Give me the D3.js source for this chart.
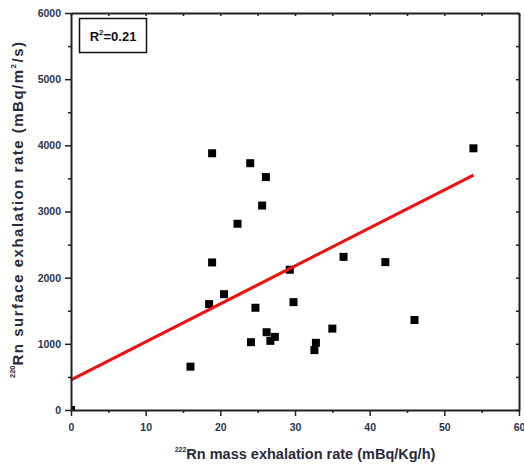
<!DOCTYPE html>
<html>
<head>
<meta charset="utf-8">
<script src="https://cdn.jsdelivr.net/npm/d3@7"></script>
<style>
  body { margin: 0; background: #fff; }
  text { font-family: "Liberation Sans", Arial, sans-serif; }
</style>
</head>
<body>
<div id="chart"></div>
<script>
// data
const massRate = [18.9, 24.0, 26.1, 25.6, 22.3, 18.9, 29.3, 20.5, 18.5, 24.7, 29.8,
                  26.2, 27.3, 26.7, 24.1, 16.0, 53.9, 36.5, 42.1, 35.0, 46.0, 32.8, 32.6, 0]
const surfaceRate = [3880, 3730, 3520, 3090, 2815, 2230, 2120, 1750, 1600, 1545, 1630,
                     1175, 1105, 1045, 1025, 655, 3955, 2315, 2235, 1230, 1360, 1015, 905, 0]
const fitX = [0, 53.9]
const fitY = [455, 3550]
const xTicks = [0, 10, 20, 30, 40, 50, 60]
const yTicks = [0, 1000, 2000, 3000, 4000, 5000, 6000]
const rSquared = "0.21"

const width = 524
const height = 466
const margin = { top: 13, bottom: 56, left: 71, right: 5 }

const svg = d3.select("#chart")
    .append("svg")
      .attr("width", width)
      .attr("height", height)

const x = d3.scaleLinear().domain([0, 60])
    .range([margin.left, width - margin.right])
const y = d3.scaleLinear().domain([0, 6000])
    .range([height - margin.bottom, margin.top])

// markers are clipped to the frame
svg.append("clipPath").attr("id", "plotClip")
  .append("rect")
    .attr("x", x(0)).attr("y", y(6000))
    .attr("width", x(60) - x(0)).attr("height", y(0) - y(6000))

const points = massRate.map((d, i) => ({ x: d, y: surfaceRate[i] }))

svg.append("g").attr("clip-path", "url(#plotClip)")
  .selectAll("rect").data(points)
  .enter().append("rect")
    .attr("x", d => x(d.x) - 4)
    .attr("y", d => y(d.y) - 4)
    .attr("width", 8)
    .attr("height", 8)
    .attr("fill", "#000")

// regression line
const line = d3.line().x(d => x(d[0])).y(d => y(d[1]))
svg.append("path")
    .datum(fitX.map((d, i) => [d, fitY[i]]))
    .attr("fill", "none")
    .attr("stroke", "#f01010")
    .attr("stroke-width", 3)
    .attr("d", line)

const axisColor = "#222"
const minorX = d3.range(5, 60, 10)
const minorY = d3.range(500, 6000, 1000)
const fmt = d3.format("d")

function styleAxis(g) {
  g.selectAll("path, line").attr("stroke", axisColor)
  g.select(".domain").attr("stroke-width", 2)
  g.selectAll(".tick line").attr("stroke-width", 1.5)
  g.selectAll("text")
    .attr("fill", "#2a3550")
    .attr("font-size", 10.5)
    .attr("font-weight", "bold")
}

// bottom axis with minor ticks
svg.append("g")
    .attr("transform", `translate(0, ${y(0)})`)
    .call(d3.axisBottom(x).tickValues(xTicks).tickFormat(fmt).tickSize(6).tickSizeOuter(0).tickPadding(8))
    .call(styleAxis)
svg.append("g")
    .attr("transform", `translate(0, ${y(0)})`)
    .call(d3.axisBottom(x).tickValues(minorX).tickSize(3).tickFormat(""))
    .call(g => g.select(".domain").remove())
    .call(styleAxis)

// left axis with minor ticks
svg.append("g")
    .attr("transform", `translate(${x(0)}, 0)`)
    .call(d3.axisLeft(y).tickValues(yTicks).tickFormat(fmt).tickSize(6).tickSizeOuter(0).tickPadding(4))
    .call(styleAxis)
svg.append("g")
    .attr("transform", `translate(${x(0)}, 0)`)
    .call(d3.axisLeft(y).tickValues(minorY).tickSize(3).tickFormat(""))
    .call(g => g.select(".domain").remove())
    .call(styleAxis)

// mirrored top and right axes, ticks pointing inward
svg.append("g")
    .attr("transform", `translate(0, ${y(6000)})`)
    .call(d3.axisBottom(x).tickValues(xTicks.concat(minorX)).tickSize(3).tickSizeOuter(0).tickFormat(""))
    .call(styleAxis)
svg.append("g")
    .attr("transform", `translate(${x(60)}, 0)`)
    .call(d3.axisLeft(y).tickValues(yTicks.concat(minorY)).tickSize(3).tickSizeOuter(0).tickFormat(""))
    .call(styleAxis)

// R² box
svg.append("rect")
    .attr("x", 79.5).attr("y", 18.5)
    .attr("width", 67).attr("height", 34)
    .attr("fill", "#fff")
    .attr("stroke", "#111")
    .attr("stroke-width", 1.5)
const rText = svg.append("text")
    .attr("x", 113).attr("y", 41)
    .attr("text-anchor", "middle")
    .attr("font-size", 13)
    .attr("font-weight", "bold")
    .attr("fill", "#111")
rText.append("tspan").text("R")
rText.append("tspan").attr("font-size", 8).attr("dy", -6).text("2")
rText.append("tspan").attr("dy", 6).text("=" + rSquared)

// axis titles
const xTitle = svg.append("text")
    .attr("x", 305).attr("y", 459)
    .attr("text-anchor", "middle")
    .attr("font-size", 14.5)
    .attr("font-weight", "bold")
    .attr("fill", "#2a2a3a")
xTitle.append("tspan").attr("font-size", 7).attr("dy", -7).text("222")
xTitle.append("tspan").attr("dy", 7).text("Rn mass exhalation rate (mBq/Kg/h)")

const yTitle = svg.append("text")
    .attr("transform", "translate(23, 378) rotate(-90)")
    .attr("text-anchor", "start")
    .attr("font-size", 15)
    .attr("font-weight", "bold")
    .attr("letter-spacing", 1.5)
    .attr("fill", "#2a2a3a")
yTitle.append("tspan").attr("font-size", 7.5).attr("dy", -8).attr("letter-spacing", 0).text("220")
yTitle.append("tspan").attr("dy", 8).text("Rn surface exhalation rate (mBq/m")
yTitle.append("tspan").attr("font-size", 8).attr("dy", -7).text("2")
yTitle.append("tspan").attr("dy", 7).text("/s)")
</script>
</body>
</html>
